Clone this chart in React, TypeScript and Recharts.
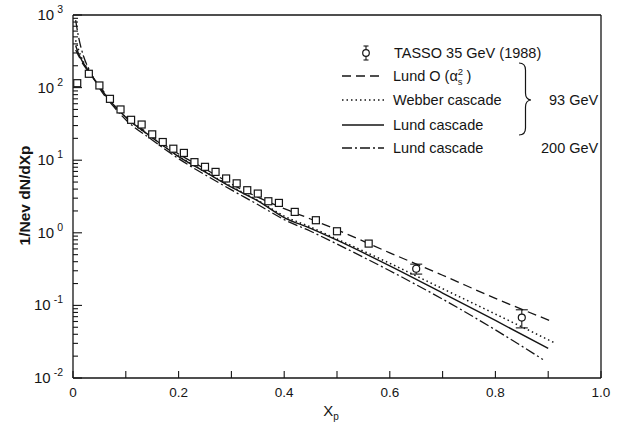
import { ComposedChart, Line, Scatter, XAxis, YAxis, ErrorBar, ReferenceLine } from "recharts"

// TASSO 35 GeV points (open squares)
const tassoX = [0.008, 0.03, 0.05, 0.07, 0.09, 0.11, 0.13, 0.15, 0.17, 0.19, 0.21, 0.23, 0.25, 0.27, 0.29, 0.31, 0.33, 0.35, 0.37, 0.39, 0.42, 0.46, 0.5, 0.56]
const tassoY = [115, 155, 107, 70, 50, 36, 31, 22.7, 17.8, 14.4, 12.6, 9.4, 8.1, 6.9, 5.6, 4.8, 3.86, 3.47, 2.72, 2.58, 1.94, 1.49, 1.05, 0.71]

// last two points, drawn as circles with error bars
const tassoErrX = [0.65, 0.85]
const tassoErrY = [0.32, 0.068]
const tassoErr = [0.05, 0.019]

// Lund O(as^2), 93 GeV
const lundOX = [0.005, 0.01, 0.02, 0.03, 0.05, 0.075, 0.1, 0.15, 0.2, 0.25, 0.3, 0.35, 0.4, 0.45, 0.5, 0.6, 0.7, 0.8, 0.91]
const lundOY = [330, 280, 205, 165, 105, 62, 40, 21.5, 12.2, 7.6, 4.7, 3.1, 2.15, 1.55, 1.1, 0.53, 0.26, 0.125, 0.059]

// Webber cascade, 93 GeV
const webberX = [0.005, 0.01, 0.02, 0.03, 0.05, 0.075, 0.1, 0.15, 0.2, 0.25, 0.3, 0.35, 0.4, 0.45, 0.5, 0.6, 0.7, 0.8, 0.91]
const webberY = [450, 340, 225, 172, 103, 60, 39, 20.5, 11.4, 7.0, 4.35, 2.8, 1.7, 1.2, 0.82, 0.38, 0.17, 0.076, 0.031]

// Lund cascade, 93 GeV
const lund93X = [0.005, 0.01, 0.02, 0.03, 0.05, 0.075, 0.1, 0.15, 0.2, 0.25, 0.3, 0.35, 0.4, 0.45, 0.5, 0.6, 0.7, 0.8, 0.9]
const lund93Y = [380, 300, 215, 168, 102, 60, 39, 20.5, 11.2, 6.9, 4.25, 2.75, 1.62, 1.15, 0.79, 0.35, 0.148, 0.062, 0.0255]

// Lund cascade, 200 GeV
const lund200X = [0.005, 0.01, 0.02, 0.03, 0.05, 0.075, 0.1, 0.15, 0.2, 0.25, 0.3, 0.35, 0.4, 0.45, 0.5, 0.6, 0.7, 0.8, 0.89]
const lund200Y = [850, 520, 270, 180, 98, 57, 36, 19, 10.5, 6.3, 3.9, 2.45, 1.52, 1.05, 0.7, 0.3, 0.122, 0.046, 0.018]

const xTicks = [0, 0.1, 0.2, 0.3, 0.4, 0.5, 0.6, 0.7, 0.8, 0.9, 1.0]
const decades = [0.01, 0.1, 1, 10, 100, 1000]
const yTicks = decades.flatMap((d) => (d === 1000 ? [d] : [1, 2, 3, 4, 5, 6, 7, 8, 9].map((m) => m * d)))

const toPoints = (xs: number[], ys: number[]) => xs.map((x, i) => ({ x, y: ys[i] }))

const INK = "#151515"
const FONT = "'Liberation Sans', Arial, sans-serif"

const Square = (props: any) => {
  const { cx, cy } = props
  return <rect x={cx - 3.5} y={cy - 3.5} width={7} height={7} fill="#fff" stroke={INK} strokeWidth={1.2} />
}

const Ring = (props: any) => {
  const { cx, cy } = props
  return <circle cx={cx} cy={cy} r={3.5} fill="#fff" stroke={INK} strokeWidth={1.2} />
}

const YTick = (props: any) => {
  const { x, y, payload } = props
  const v = payload.value
  const exp = Math.round(Math.log10(v))
  const major = Math.abs(v - Math.pow(10, exp)) < 1e-9 * v
  return (
    <g>
      <line x1={x} x2={x + (major ? 9 : 5)} y1={y} y2={y} stroke={INK} strokeWidth={1.1} />
      {major && (
        <text x={x - 10} y={y + 5} textAnchor="end" fontSize={15} fontFamily={FONT} fill={INK}>
          10
          <tspan fontSize={10.5} dx={3} dy={-7}>
            {String(exp)}
          </tspan>
        </text>
      )}
    </g>
  )
}

const XTick = (props: any) => {
  const { x, y, payload } = props
  const v = payload.value
  const labelled = Math.round(v * 10) % 2 === 0
  return (
    <g>
      <line x1={x} x2={x} y1={y} y2={y - 7} stroke={INK} strokeWidth={1.1} />
      {labelled && (
        <text x={x} y={y + 19} textAnchor="middle" fontSize={13.5} fontFamily={FONT} fill={INK}>
          {v === 0 ? "0" : v.toFixed(1)}
        </text>
      )}
    </g>
  )
}

const YLabel = (props: any) => {
  const { viewBox } = props
  const cx = viewBox.x + 11
  const cy = viewBox.y + viewBox.height / 2 - 1
  return (
    <text
      x={cx}
      y={cy}
      transform={`rotate(-90 ${cx} ${cy})`}
      textAnchor="middle"
      dominantBaseline="central"
      fontSize={15.5}
      fontWeight="bold"
      fontFamily={FONT}
      fill={INK}
    >
      1/Nev dN/dXp
    </text>
  )
}

const XLabel = (props: any) => {
  const { viewBox } = props
  const cx = viewBox.x + viewBox.width / 2 - 6
  return (
    <text x={cx} y={viewBox.y + 38} textAnchor="middle" fontSize={15} fontFamily={FONT} fill={INK}>
      X
      <tspan fontSize={10} dy={4}>
        p
      </tspan>
    </text>
  )
}

const legendRows = [
  { label: "Lund O", dash: "9 5", y: 76 },
  { label: "Webber cascade", dash: "1.5 3", y: 100 },
  { label: "Lund cascade", dash: "", y: 125 },
  { label: "Lund cascade", dash: "10 3 2 3", y: 148 },
]

function LegendBox() {
  const textProps = { fontSize: 14.5, fontFamily: FONT, fill: INK, dominantBaseline: "central" as const }
  return (
    <svg width={621} height={428} style={{ position: "absolute", left: 0, top: 0, pointerEvents: "none" }}>
      <line x1={366} x2={366} y1={46} y2={60} stroke={INK} strokeWidth={1.1} />
      <line x1={363.5} x2={368.5} y1={46} y2={46} stroke={INK} strokeWidth={1.1} />
      <line x1={363.5} x2={368.5} y1={60} y2={60} stroke={INK} strokeWidth={1.1} />
      <circle cx={366} cy={53} r={3.3} fill="#fff" stroke={INK} strokeWidth={1.2} />
      <text x={394} y={53} {...textProps}>
        TASSO 35 GeV (1988)
      </text>
      {legendRows.map((r, i) => (
        <g key={i}>
          <line x1={342} x2={384} y1={r.y} y2={r.y} stroke={INK} strokeWidth={1.3} strokeDasharray={r.dash || undefined} />
          <text x={393} y={r.y} {...textProps}>
            {r.label}
            {i === 0 && (
              <>
                <tspan> (α</tspan>
                <tspan fontSize={9.5} dy={-5}>2</tspan>
                <tspan fontSize={9.5} dx={-5.5} dy={10}>s</tspan>
                <tspan dy={-5}> )</tspan>
              </>
            )}
          </text>
        </g>
      ))}
      <path
        d="M519,63 Q525.5,63 525.5,70 L525.5,93 Q525.5,99.5 531,100 Q525.5,100.5 525.5,107 L525.5,128 Q525.5,135 519,135"
        fill="none"
        stroke={INK}
        strokeWidth={1.2}
      />
      <text x={549} y={100} {...textProps}>
        93 GeV
      </text>
      <text x={541} y={148} {...textProps}>
        200 GeV
      </text>
    </svg>
  )
}

export default function App() {
  const squares = toPoints(tassoX, tassoY)
  const rings = tassoErrX.map((x, i) => ({ x, y: tassoErrY[i], err: tassoErr[i] }))

  return (
    <div style={{ position: "absolute", left: 0, top: 0, width: 621, height: 428, background: "#fff" }}>
      <ComposedChart width={621} height={428} margin={{ top: 15, right: 20, bottom: 10, left: 13 }}>
        <XAxis
          dataKey="x"
          type="number"
          domain={[0, 1]}
          ticks={xTicks}
          interval={0}
          height={40}
          tickSize={0}
          tickMargin={0}
          tickLine={false}
          tick={<XTick />}
          axisLine={{ stroke: INK, strokeWidth: 1.3 }}
          allowDataOverflow
          label={XLabel}
        />
        <YAxis
          dataKey="y"
          type="number"
          scale="log"
          domain={[0.01, 1000]}
          ticks={yTicks}
          interval={0}
          width={60}
          tickSize={0}
          tickMargin={0}
          tickLine={false}
          tick={<YTick />}
          axisLine={{ stroke: INK, strokeWidth: 1.3 }}
          allowDataOverflow
          label={YLabel}
        />
        <ReferenceLine y={1000} stroke={INK} strokeWidth={1.3} />
        <ReferenceLine x={1} stroke={INK} strokeWidth={1.3} />
        <Line data={toPoints(lundOX, lundOY)} dataKey="y" type="monotone" stroke={INK} strokeWidth={1.3} strokeDasharray="9 5" dot={false} isAnimationActive={false} />
        <Line data={toPoints(webberX, webberY)} dataKey="y" type="monotone" stroke={INK} strokeWidth={1.5} strokeDasharray="1.5 3" dot={false} isAnimationActive={false} />
        <Line data={toPoints(lund93X, lund93Y)} dataKey="y" type="monotone" stroke={INK} strokeWidth={1.4} dot={false} isAnimationActive={false} />
        <Line data={toPoints(lund200X, lund200Y)} dataKey="y" type="monotone" stroke={INK} strokeWidth={1.3} strokeDasharray="10 3 2 3" dot={false} isAnimationActive={false} />
        <Scatter data={squares} dataKey="y" shape={Square} isAnimationActive={false} />
        <Scatter data={rings} dataKey="y" shape={Ring} isAnimationActive={false}>
          <ErrorBar dataKey="err" direction="y" width={6} stroke={INK} strokeWidth={1.1} />
        </Scatter>
      </ComposedChart>
      <LegendBox />
    </div>
  )
}
